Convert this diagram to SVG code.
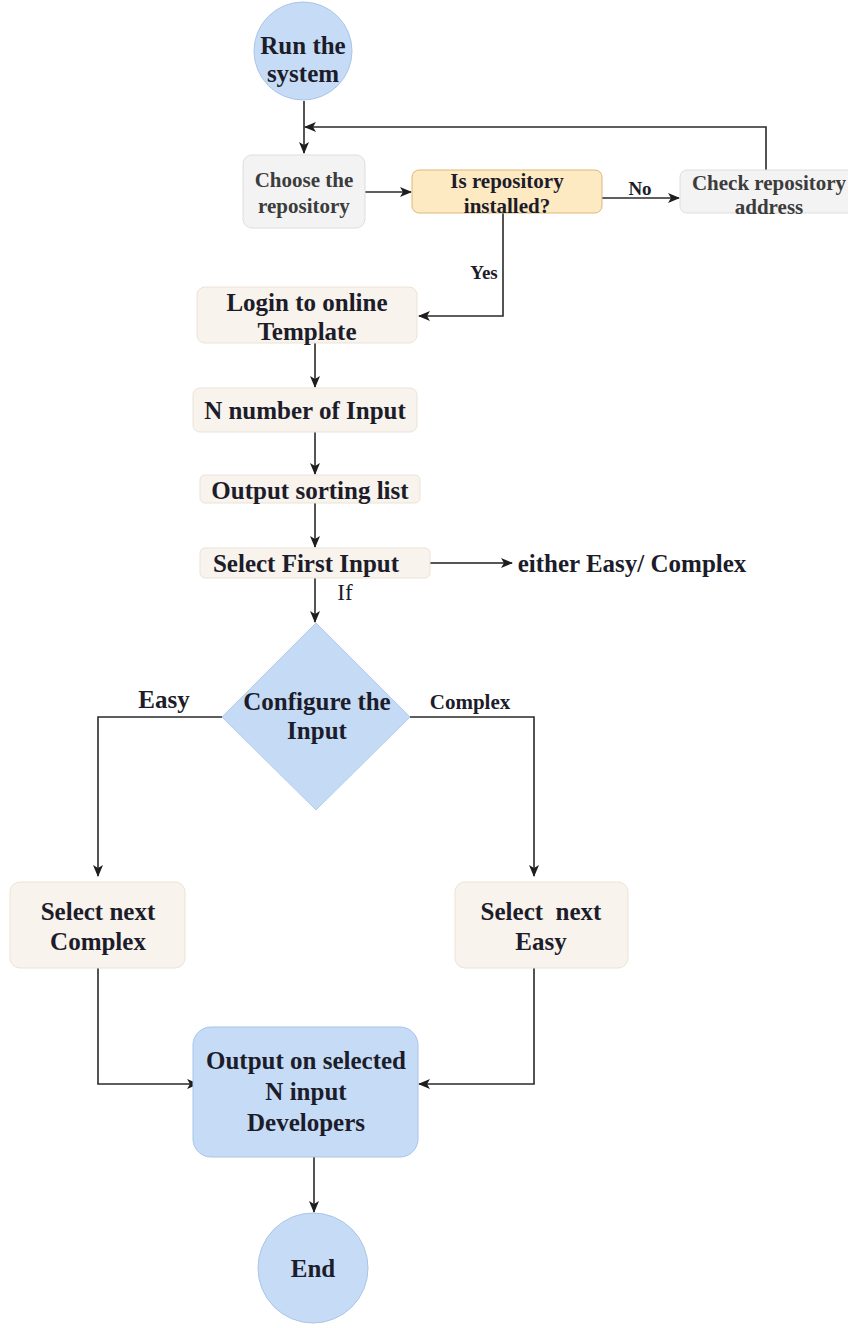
<svg xmlns="http://www.w3.org/2000/svg" width="848" height="1328" viewBox="0 0 848 1328">
  <style>
    text { font-family: "Liberation Serif", "Times New Roman", serif; font-weight: bold; fill: #1c1c2a; text-anchor: middle; }
    .t26 { font-size: 25px; }
    .t22 { font-size: 21px; }
    .gray { fill: #3c3c3c; }
    .lbl { font-size: 19px; }
    .plain { font-weight: normal; }
    .terminal { fill: #c6dcf6; stroke: #a9c5e8; stroke-width: 1; }
    .neutral { fill: #f3f3f3; stroke: #dedede; stroke-width: 1; }
    .decision-box { fill: #fde9c2; stroke: #dcb878; stroke-width: 1; }
    .step { fill: #f8f3ec; stroke: #ece3d6; stroke-width: 1; }
    .blue { fill: #c5dbf6; stroke: #a8c5ea; stroke-width: 1; }
    .conn { fill: none; stroke: #2a2a2a; stroke-width: 1.6; }
    .conn.soft { stroke: #555; stroke-width: 2; }
  </style>
  <defs>
    <marker id="arrow" markerUnits="userSpaceOnUse" markerWidth="12" markerHeight="10" refX="11" refY="5" orient="auto">
      <path d="M0,0 L12,5 L0,10 L3,5 z" fill="#1e1e1e"/>
    </marker>
  </defs>
  <rect width="848" height="1328" fill="#ffffff"/>

  <!-- connectors -->
  <g id="connectors">
    <path class="conn" d="M304,101 V153" marker-end="url(#arrow)"/>
    <path class="conn" d="M766,170 V127 H305" marker-end="url(#arrow)"/>
    <path class="conn" d="M365,192 H411" marker-end="url(#arrow)"/>
    <path class="conn" d="M602,198 H679" marker-end="url(#arrow)"/>
    <path class="conn" d="M503,213 V316 H419" marker-end="url(#arrow)"/>
    <path class="conn" d="M315,343 V387" marker-end="url(#arrow)"/>
    <path class="conn soft" d="M315,432 V474" marker-end="url(#arrow)"/>
    <path class="conn soft" d="M315,503 V547" marker-end="url(#arrow)"/>
    <path class="conn soft" d="M430,563 H512" marker-end="url(#arrow)"/>
    <path class="conn" d="M315,578 V622" marker-end="url(#arrow)"/>
    <path class="conn" d="M222,717 H98 V876" marker-end="url(#arrow)"/>
    <path class="conn" d="M410,717 H534 V876" marker-end="url(#arrow)"/>
    <path class="conn" d="M98,968 V1084 H198" marker-end="url(#arrow)"/>
    <path class="conn" d="M534,968 V1084 H419" marker-end="url(#arrow)"/>
    <path class="conn" d="M314,1157 V1212" marker-end="url(#arrow)"/>
    <text class="lbl" x="640" y="195">No</text>
    <text class="lbl" x="484" y="279">Yes</text>
    <text class="plain" x="345" y="600" style="font-size:23px">If</text>
    <text class="t26" x="632" y="572">either Easy/ Complex</text>
    <text class="t26" x="164" y="708">Easy</text>
    <text class="t22" x="470" y="709">Complex</text>
  </g>

  <g id="start">
    <circle class="terminal" cx="303" cy="51" r="49"/>
    <text class="t26" x="303" y="54">Run the</text>
    <text class="t26" x="303" y="82">system</text>
  </g>

  <g id="choose-repository">
    <rect class="neutral" x="243" y="155" width="122" height="73" rx="9"/>
    <text class="t22 gray" x="304" y="187">Choose the</text>
    <text class="t22 gray" x="304" y="213">repository</text>
  </g>

  <g id="is-installed">
    <rect class="decision-box" x="412" y="170" width="190" height="43" rx="7"/>
    <text class="t22" x="507" y="188">Is repository</text>
    <text class="t22" x="507" y="213">installed?</text>
  </g>

  <g id="check-address">
    <rect class="neutral" x="680" y="170" width="175" height="43" rx="7"/>
    <text class="t22 gray" x="769" y="190">Check repository</text>
    <text class="t22 gray" x="769" y="214">address</text>
  </g>

  <g id="login">
    <rect class="step" x="197" y="287" width="220" height="56" rx="8"/>
    <text class="t26" x="307" y="311">Login to online</text>
    <text class="t26" x="307" y="340">Template</text>
  </g>

  <g id="n-input">
    <rect class="step" x="193" y="388" width="224" height="44" rx="7"/>
    <text class="t26" x="305" y="419">N number of Input</text>
  </g>

  <g id="sorting-list">
    <rect class="step" x="200" y="475" width="220" height="28" rx="5"/>
    <text class="t26" x="310" y="499">Output sorting list</text>
  </g>

  <g id="first-input">
    <rect class="step" x="200" y="548" width="230" height="30" rx="5"/>
    <text class="t26" x="306" y="572">Select First Input</text>
  </g>

  <g id="configure">
    <polygon fill="#c5dbf5" stroke="#b3cdee" stroke-width="1" points="316,623 410,717 316,810 222,717"/>
    <text class="t26" x="317" y="710">Configure the</text>
    <text class="t26" x="317" y="739">Input</text>
  </g>

  <g id="next-complex">
    <rect class="step" x="10" y="882" width="175" height="86" rx="10"/>
    <text class="t26" x="98" y="920">Select next</text>
    <text class="t26" x="98" y="950">Complex</text>
  </g>

  <g id="next-easy">
    <rect class="step" x="455" y="882" width="173" height="86" rx="10"/>
    <text class="t26" x="541" y="920" xml:space="preserve">Select  next</text>
    <text class="t26" x="541" y="950">Easy</text>
  </g>

  <g id="output">
    <rect class="blue" x="193" y="1027" width="225" height="130" rx="18"/>
    <text class="t26" x="306" y="1069">Output on selected</text>
    <text class="t26" x="306" y="1100">N input</text>
    <text class="t26" x="306" y="1131">Developers</text>
  </g>

  <g id="end">
    <circle class="terminal" cx="313" cy="1268" r="55"/>
    <text class="t26" x="313" y="1277">End</text>
  </g>
</svg>
